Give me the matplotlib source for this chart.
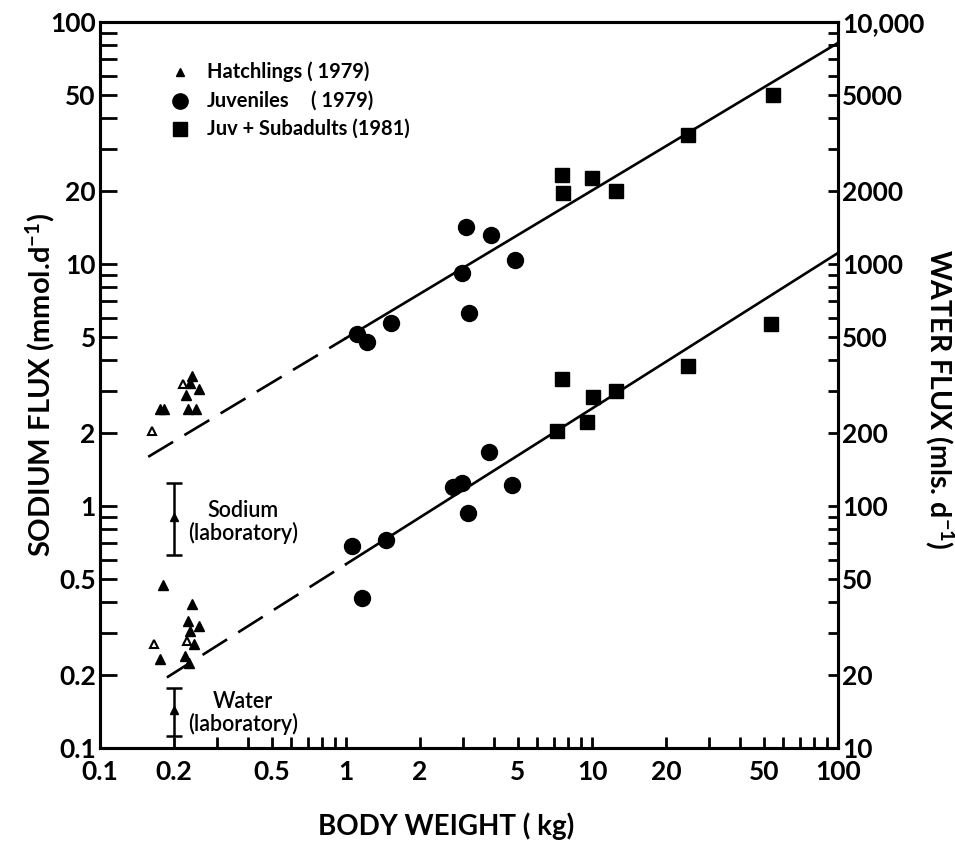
import numpy as np
import matplotlib
matplotlib.use('Agg')
import matplotlib.pyplot as plt
from matplotlib.ticker import FixedLocator, NullFormatter, LogLocator

plt.rcParams['font.family'] = ['Lato', 'DejaVu Sans']
plt.rcParams['font.weight'] = 'bold'
plt.rcParams['axes.labelweight'] = 'bold'
plt.rcParams['mathtext.default'] = 'regular'

# body weight (kg) / sodium flux (mmol/d)
hatch_na_x = [0.175, 0.182, 0.227, 0.245, 0.223, 0.253, 0.232, 0.236]
hatch_na_y = [2.52, 2.52, 2.52, 2.52, 2.88, 3.03, 3.21, 3.44]
hatch_na_open_x = [0.163, 0.218]
hatch_na_open_y = [2.05, 3.19]
juv_na_x = [1.105, 1.22, 1.52, 2.95, 3.08, 3.17, 3.90, 4.87]
juv_na_y = [5.14, 4.78, 5.69, 9.2, 14.2, 6.25, 13.2, 10.4]
sub_na_x = [7.57, 7.6, 9.98, 12.5, 24.5, 54.6]
sub_na_y = [23.3, 19.6, 22.6, 20.1, 34.1, 49.9]

# body weight (kg) / water flux (ml/d)
hatch_w_x = [0.180, 0.236, 0.227, 0.253, 0.232, 0.241, 0.176, 0.222, 0.231]
hatch_w_y = [47.2, 39.3, 33.6, 31.9, 30.3, 27.0, 23.3, 23.9, 22.4]
hatch_w_open_x = [0.165, 0.225]
hatch_w_open_y = [26.8, 27.7]
juv_w_x = [1.055, 1.16, 1.46, 2.73, 2.95, 3.14, 3.83, 4.71]
juv_w_y = [68.4, 41.7, 72.7, 120, 125, 94, 167, 122]
sub_w_x = [7.19, 7.52, 9.57, 10.1, 12.5, 24.5, 53.2]
sub_w_y = [204, 334, 223, 283, 299, 379, 564]

# laboratory means with range
lab_x = 0.2
lab_na = [0.90, 0.63, 1.25]   # mean, low, high
lab_w = [14.3, 11.2, 17.7]

# fitted lines y = a * x^b
na_fit = (4.94, 0.61)
w_fit = (57.5, 0.643)
na_dash = (0.157, 1.0)
w_dash = (0.187, 1.0)
fit_end = 100

xticks = [0.1, 0.2, 0.5, 1, 2, 5, 10, 20, 50, 100]
xticklabels = ['0.1', '0.2', '0.5', '1', '2', '5', '10', '20', '50', '100']
yticks = [0.1, 0.2, 0.5, 1, 2, 5, 10, 20, 50, 100]
yticklabels = ['0.1', '0.2', '0.5', '1', '2', '5', '10', '20', '50', '100']
y2ticks = [10, 20, 50, 100, 200, 500, 1000, 2000, 5000, 10000]
y2ticklabels = ['10', '20', '50', '100', '200', '500', '1000', '2000', '5000', '10,000']

fig = plt.figure(figsize=(9.55, 8.42), dpi=100)
ax = fig.add_axes([100/955, 94/842, 738/955, 726/842])
ax2 = ax.twinx()

ax.set_xscale('log')
ax.set_yscale('log')
ax2.set_yscale('log')
ax.set_xlim(0.1, 100)
ax.set_ylim(0.1, 100)
ax2.set_ylim(10, 10000)

# fitted lines
def fit_line(axis, fit, lo, mid, hi):
    a, b = fit
    xd = np.array([lo, mid])
    axis.plot(xd, a*xd**b, color='k', lw=1.9, dashes=(11, 5), solid_capstyle='butt')
    xs = np.array([mid, hi])
    axis.plot(xs, a*xs**b, color='k', lw=1.9)

fit_line(ax, na_fit, na_dash[0], na_dash[1], fit_end)
fit_line(ax2, w_fit, w_dash[0], w_dash[1], fit_end)

# sodium
ax.plot(hatch_na_x, hatch_na_y, '^', color='k', ms=7, ls='none')
ax.plot(hatch_na_open_x, hatch_na_open_y, '^', mfc='white', mec='k', mew=1.5, ms=6, ls='none')
ax.plot(juv_na_x, juv_na_y, 'o', color='k', ms=11.5, ls='none')
ax.plot(sub_na_x, sub_na_y, 's', color='k', ms=10.5, ls='none')

# water
ax2.plot(hatch_w_x, hatch_w_y, '^', color='k', ms=7, ls='none')
ax2.plot(hatch_w_open_x, hatch_w_open_y, '^', mfc='white', mec='k', mew=1.5, ms=6, ls='none')
ax2.plot(juv_w_x, juv_w_y, 'o', color='k', ms=11.5, ls='none')
ax2.plot(sub_w_x, sub_w_y, 's', color='k', ms=10.5, ls='none')

# laboratory bars
ax.errorbar([lab_x], [lab_na[0]], yerr=[[lab_na[0]-lab_na[1]], [lab_na[2]-lab_na[0]]],
            fmt='^', color='k', ms=6, elinewidth=1.8, capsize=6, capthick=1.8)
ax2.errorbar([lab_x], [lab_w[0]], yerr=[[lab_w[0]-lab_w[1]], [lab_w[2]-lab_w[0]]],
             fmt='^', color='k', ms=6, elinewidth=1.8, capsize=6, capthick=1.8)
ax.text(0.38, 0.86, 'Sodium\n(laboratory)', ha='center', va='center', fontsize=15.5,
        fontweight='semibold', linespacing=1.05)
ax.text(0.38, 0.14, 'Water\n(laboratory)', ha='center', va='center', fontsize=15.5,
        fontweight='semibold', linespacing=1.05)

# legend
lx = 0.108
ly = [0.931, 0.891, 0.853]
ax.plot([lx], [ly[0]], '^', color='k', ms=6, transform=ax.transAxes)
ax.plot([lx], [ly[1]], 'o', color='k', ms=11, transform=ax.transAxes)
ax.plot([lx], [ly[2]], 's', color='k', ms=10.5, transform=ax.transAxes)
ax.text(lx+0.037, ly[0], 'Hatchlings ( 1979)', transform=ax.transAxes, va='center', fontsize=14.5)
ax.text(lx+0.037, ly[1], 'Juveniles', transform=ax.transAxes, va='center', fontsize=14.5)
ax.text(lx+0.178, ly[1], '( 1979)', transform=ax.transAxes, va='center', fontsize=14.5)
ax.text(lx+0.037, ly[2], 'Juv + Subadults (1981)', transform=ax.transAxes, va='center', fontsize=14.5)

# ticks
ax.xaxis.set_major_locator(FixedLocator(xticks))
ax.set_xticklabels(xticklabels)
ax.xaxis.set_minor_locator(LogLocator(subs=[3, 4, 6, 7, 8, 9]))
ax.xaxis.set_minor_formatter(NullFormatter())
ax.yaxis.set_major_locator(FixedLocator(yticks))
ax.set_yticklabels(yticklabels)
ax.yaxis.set_minor_locator(LogLocator(subs=[3, 4, 6, 7, 8, 9]))
ax.yaxis.set_minor_formatter(NullFormatter())
ax2.yaxis.set_major_locator(FixedLocator(y2ticks))
ax2.set_yticklabels(y2ticklabels)
ax2.yaxis.set_minor_locator(LogLocator(subs=[3, 4, 6, 7, 8, 9]))
ax2.yaxis.set_minor_formatter(NullFormatter())

ax.tick_params(axis='x', which='both', direction='in', length=8, width=2, labelsize=19, pad=9, top=False)
ax.tick_params(axis='y', which='both', direction='in', length=12, width=2, labelsize=19, pad=3, right=False)
ax2.tick_params(axis='y', which='both', direction='in', length=7, width=2, labelsize=19, pad=3)

for s in ['left', 'bottom', 'right', 'top']:
    ax.spines[s].set_linewidth(2.2)
    ax2.spines[s].set_linewidth(2.2)

ax.set_xlabel('BODY WEIGHT ( kg)', fontsize=20, va='center', fontweight='bold')
ax.set_ylabel(r'SODIUM FLUX (mmol.d$^{-1}$)', fontsize=21, va='center', fontweight='bold')
ax2.set_ylabel(r'WATER FLUX (mls. d$^{-1}$)', fontsize=20.5, rotation=270, va='center', fontweight='bold')
ax.xaxis.set_label_coords(0.469, -0.108)
ax.yaxis.set_label_coords(-0.081, 0.5)
ax2.yaxis.set_label_coords(1.138, 0.48)

fig.savefig('out.png', dpi=100)
